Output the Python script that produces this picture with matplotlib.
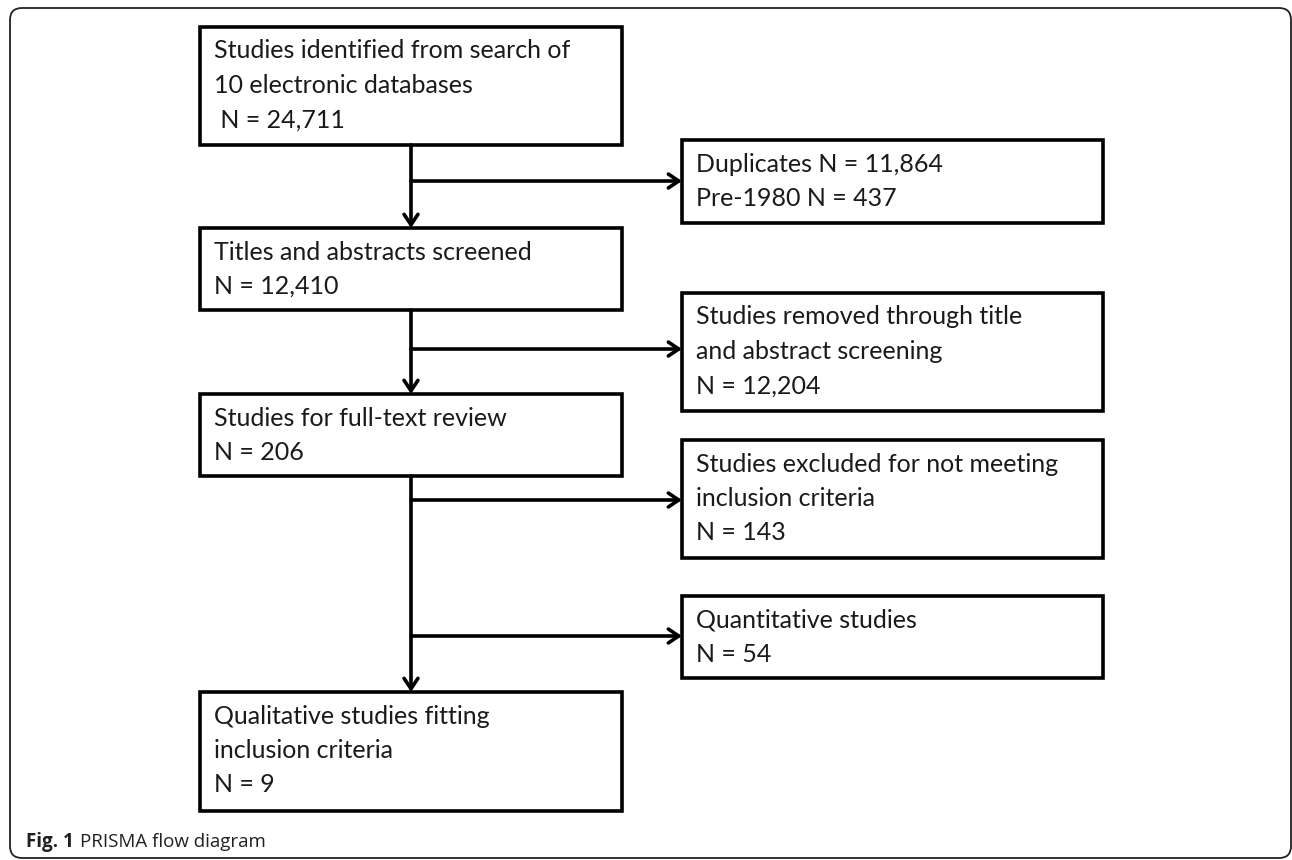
import matplotlib.pyplot as plt
from matplotlib.patches import Rectangle, FancyBboxPatch

# texts of the flow diagram
main_steps = [
    "Studies identified from search of\n10 electronic databases\n N = 24,711",
    "Titles and abstracts screened\nN = 12,410",
    "Studies for full-text review\nN = 206",
    "Qualitative studies fitting\ninclusion criteria\nN = 9",
]
side_steps = [
    "Duplicates N = 11,864\nPre-1980 N = 437",
    "Studies removed through title\nand abstract screening\nN = 12,204",
    "Studies excluded for not meeting\ninclusion criteria\nN = 143",
    "Quantitative studies\nN = 54",
]
caption_bold = "Fig. 1"
caption_text = "PRISMA flow diagram"

# layout in pixels (y goes down)
main_x = (200, 622)
main_y = [(27, 145), (228, 310), (394, 476), (692, 811)]
side_x = (682, 1103)
side_y = [(140, 223), (293, 411), (440, 558), (596, 678)]
branch_y = [181, 349, 500, 636]
spine_x = 411

W, H = 1292, 860
fig = plt.figure(figsize=(W / 100, H / 100), dpi=100)
ax = fig.add_axes([0, 0, 1, 1])
ax.set_xlim(0, W)
ax.set_ylim(H, 0)
ax.axis('off')

font = 'Lato'
fs = 18
lw = 2.6
line_h = 34.5

# outer frame
frame = FancyBboxPatch((10, 8), 1281, 850, boxstyle="round,pad=0,rounding_size=12",
                       fill=False, ec='#222222', lw=1.3)
ax.add_patch(frame)


def draw_box(x0, x1, y0, y1, text):
    ax.add_patch(Rectangle((x0, y0), x1 - x0, y1 - y0, fill=False, ec='black', lw=lw))
    lines = text.split('\n')
    for i, ln in enumerate(lines):
        ax.text(x0 + 14, y0 + 24 + i * line_h, ln, fontsize=fs, family=font,
                color='#1a1a1a', va='center', ha='left')


for (y0, y1), t in zip(main_y, main_steps):
    draw_box(main_x[0], main_x[1], y0, y1, t)
for (y0, y1), t in zip(side_y, side_steps):
    draw_box(side_x[0], side_x[1], y0, y1, t)

arrow = dict(arrowstyle='->,head_length=0.75,head_width=0.5', lw=lw, color='black',
             shrinkA=0, shrinkB=0)

# vertical arrows between main boxes
ax.annotate('', xy=(spine_x, main_y[1][0]), xytext=(spine_x, main_y[0][1]), arrowprops=arrow)
ax.annotate('', xy=(spine_x, main_y[2][0]), xytext=(spine_x, main_y[1][1]), arrowprops=arrow)
ax.annotate('', xy=(spine_x, main_y[3][0]), xytext=(spine_x, main_y[2][1]), arrowprops=arrow)

# side branches
for by in branch_y:
    ax.annotate('', xy=(side_x[0], by), xytext=(spine_x, by), arrowprops=arrow)

# caption
t1 = ax.text(26, 842, caption_bold, fontsize=13.5, family='Open Sans', weight='bold',
             color='#231f20', va='center', ha='left')
fig.canvas.draw()
bb = t1.get_window_extent()
x_next = bb.x1 + 6
ax.text(x_next, 842, caption_text, fontsize=13.5, family='Open Sans',
        color='#231f20', va='center', ha='left')

fig.savefig('out.png', dpi=100)
